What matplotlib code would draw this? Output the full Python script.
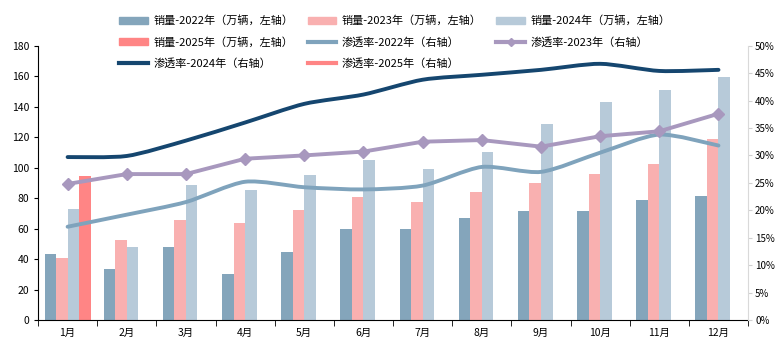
import matplotlib

matplotlib.use("Agg")
import matplotlib.pyplot as plt
import numpy as np
from matplotlib.patches import PathPatch, Patch
from matplotlib.lines import Line2D
from matplotlib.path import Path

plt.rcParams["font.family"] = ["Noto Sans CJK SC", "DejaVu Sans"]

months = ["1月", "2月", "3月", "4月", "5月", "6月", "7月", "8月", "9月", "10月", "11月", "12月"]

# sales, 10k units (left axis)
sales_2022 = [43.4, 33.5, 48.2, 30.2, 44.9, 59.8, 59.8, 67.2, 71.2, 71.2, 78.8, 81.3]
sales_2023 = [40.7, 52.3, 65.7, 63.9, 72.3, 80.4, 77.7, 84.3, 90.2, 95.9, 102.5, 118.9]
sales_2024 = [73.0, 48.2, 88.5, 85.4, 95.0, 105.1, 99.2, 110.0, 128.8, 142.8, 151.1, 159.7]
sales_2025 = [94.2]

# penetration rate, % (right axis)
pen_2022 = [17.0, 19.2, 21.5, 25.2, 24.2, 23.8, 24.5, 27.9, 27.0, 30.5, 33.8, 31.8]
pen_2023 = [24.8, 26.6, 26.6, 29.4, 30.0, 30.7, 32.5, 32.8, 31.6, 33.5, 34.4, 37.6]
pen_2024 = [29.7, 29.9, 32.7, 36.0, 39.4, 41.1, 43.8, 44.7, 45.6, 46.7, 45.4, 45.6]

C22 = "#84A5BB"
C23 = "#F9B0B0"
C24 = "#B7CAD9"
C25 = "#FF8585"
L22 = "#7FA3BC"
L23 = "#A898BE"
L24 = "#15466F"


def smooth_path(x, y):
    # Catmull-Rom style smoothing (like Excel's smoothed line), drawn as bezier path
    pts = np.column_stack([x, y]).astype(float)
    verts = [pts[0]]
    codes = [Path.MOVETO]
    n = len(pts)
    for i in range(n - 1):
        p0 = pts[max(i - 1, 0)]
        p1 = pts[i]
        p2 = pts[i + 1]
        p3 = pts[min(i + 2, n - 1)]
        c1 = p1 + (p2 - p0) / 8.0
        c2 = p2 - (p3 - p1) / 8.0
        verts += [c1, c2, p2]
        codes += [Path.CURVE4] * 3
    return Path(verts, codes)


fig = plt.figure(figsize=(7.76, 3.45), dpi=100)
ax = fig.add_axes([0.049, 0.0725, 0.915, 0.795])
ax2 = ax.twinx()

x = np.arange(len(months))
w = 0.195
ax.bar(x - 1.5 * w, sales_2022, w, color=C22, zorder=2)
ax.bar(x - 0.5 * w, sales_2023, w, color=C23, zorder=2)
ax.bar(x + 0.5 * w, sales_2024, w, color=C24, zorder=2)
ax.bar(x[: len(sales_2025)] + 1.5 * w, sales_2025, w, color=C25, zorder=2)

ax2.add_patch(PathPatch(smooth_path(x, pen_2022), fill=False, ec=L22, lw=2.8, capstyle="round"))
ax2.plot(x, pen_2023, color=L23, lw=2.8, marker="D", ms=6.5, mec=L23, mfc=L23)
ax2.add_patch(PathPatch(smooth_path(x, pen_2024), fill=False, ec=L24, lw=2.8, capstyle="round"))

ax.set_xlim(-0.5, len(months) - 0.5)
ax.set_ylim(0, 180)
ax.set_yticks(np.arange(0, 181, 20))
ax2.set_ylim(0, 50)
ax2.set_yticks(np.arange(0, 51, 5))
ax2.set_yticklabels([f"{v}%" for v in range(0, 51, 5)])

ax.set_xticks(x)
ax.set_xticklabels(months)
ax.set_xticks(np.arange(-0.5, len(months)), minor=True)
ax.tick_params(axis="x", which="major", length=0, labelsize=7.5, pad=6)
ax.tick_params(axis="x", which="minor", length=4, direction="out", color="black")
ax.tick_params(axis="y", length=3, labelsize=7.5, direction="out")
ax2.tick_params(axis="y", length=3, labelsize=7, pad=2, direction="out", color="#D0D0D0")

for a in (ax, ax2):
    a.spines["top"].set_visible(False)
ax.spines["right"].set_visible(False)
ax2.spines["left"].set_visible(False)
ax2.spines["bottom"].set_visible(False)
ax2.spines["right"].set_color("#D9D9D9")
ax.spines["left"].set_color("black")
ax.spines["bottom"].set_color("black")

handles = {
    "a": Patch(color=C22, label="销量-2022年（万辆，左轴）"),
    "b": Patch(color=C23, label="销量-2023年（万辆，左轴）"),
    "c": Patch(color=C24, label="销量-2024年（万辆，左轴）"),
    "d": Patch(color=C25, label="销量-2025年（万辆，左轴）"),
    "e": Line2D([], [], color=L22, lw=3, label="渗透率-2022年（右轴）"),
    "f": Line2D([], [], color=L23, lw=3, marker="D", ms=4, label="渗透率-2023年（右轴）"),
    "g": Line2D([], [], color=L24, lw=3, label="渗透率-2024年（右轴）"),
    "h": Line2D([], [], color=C25, lw=3, label="渗透率-2025年（右轴）"),
}
order = ["a", "d", "g", "b", "e", "h", "c", "f"]
fig.legend(
    [handles[k] for k in order],
    [handles[k].get_label() for k in order],
    ncol=3,
    loc="upper left",
    bbox_to_anchor=(0.14, 0.985),
    frameon=False,
    fontsize=8,
    handlelength=2.6,
    handleheight=0.6,
    labelspacing=0.95,
    columnspacing=1.3,
    handletextpad=0.5,
)

fig.savefig("out.png", dpi=100)
